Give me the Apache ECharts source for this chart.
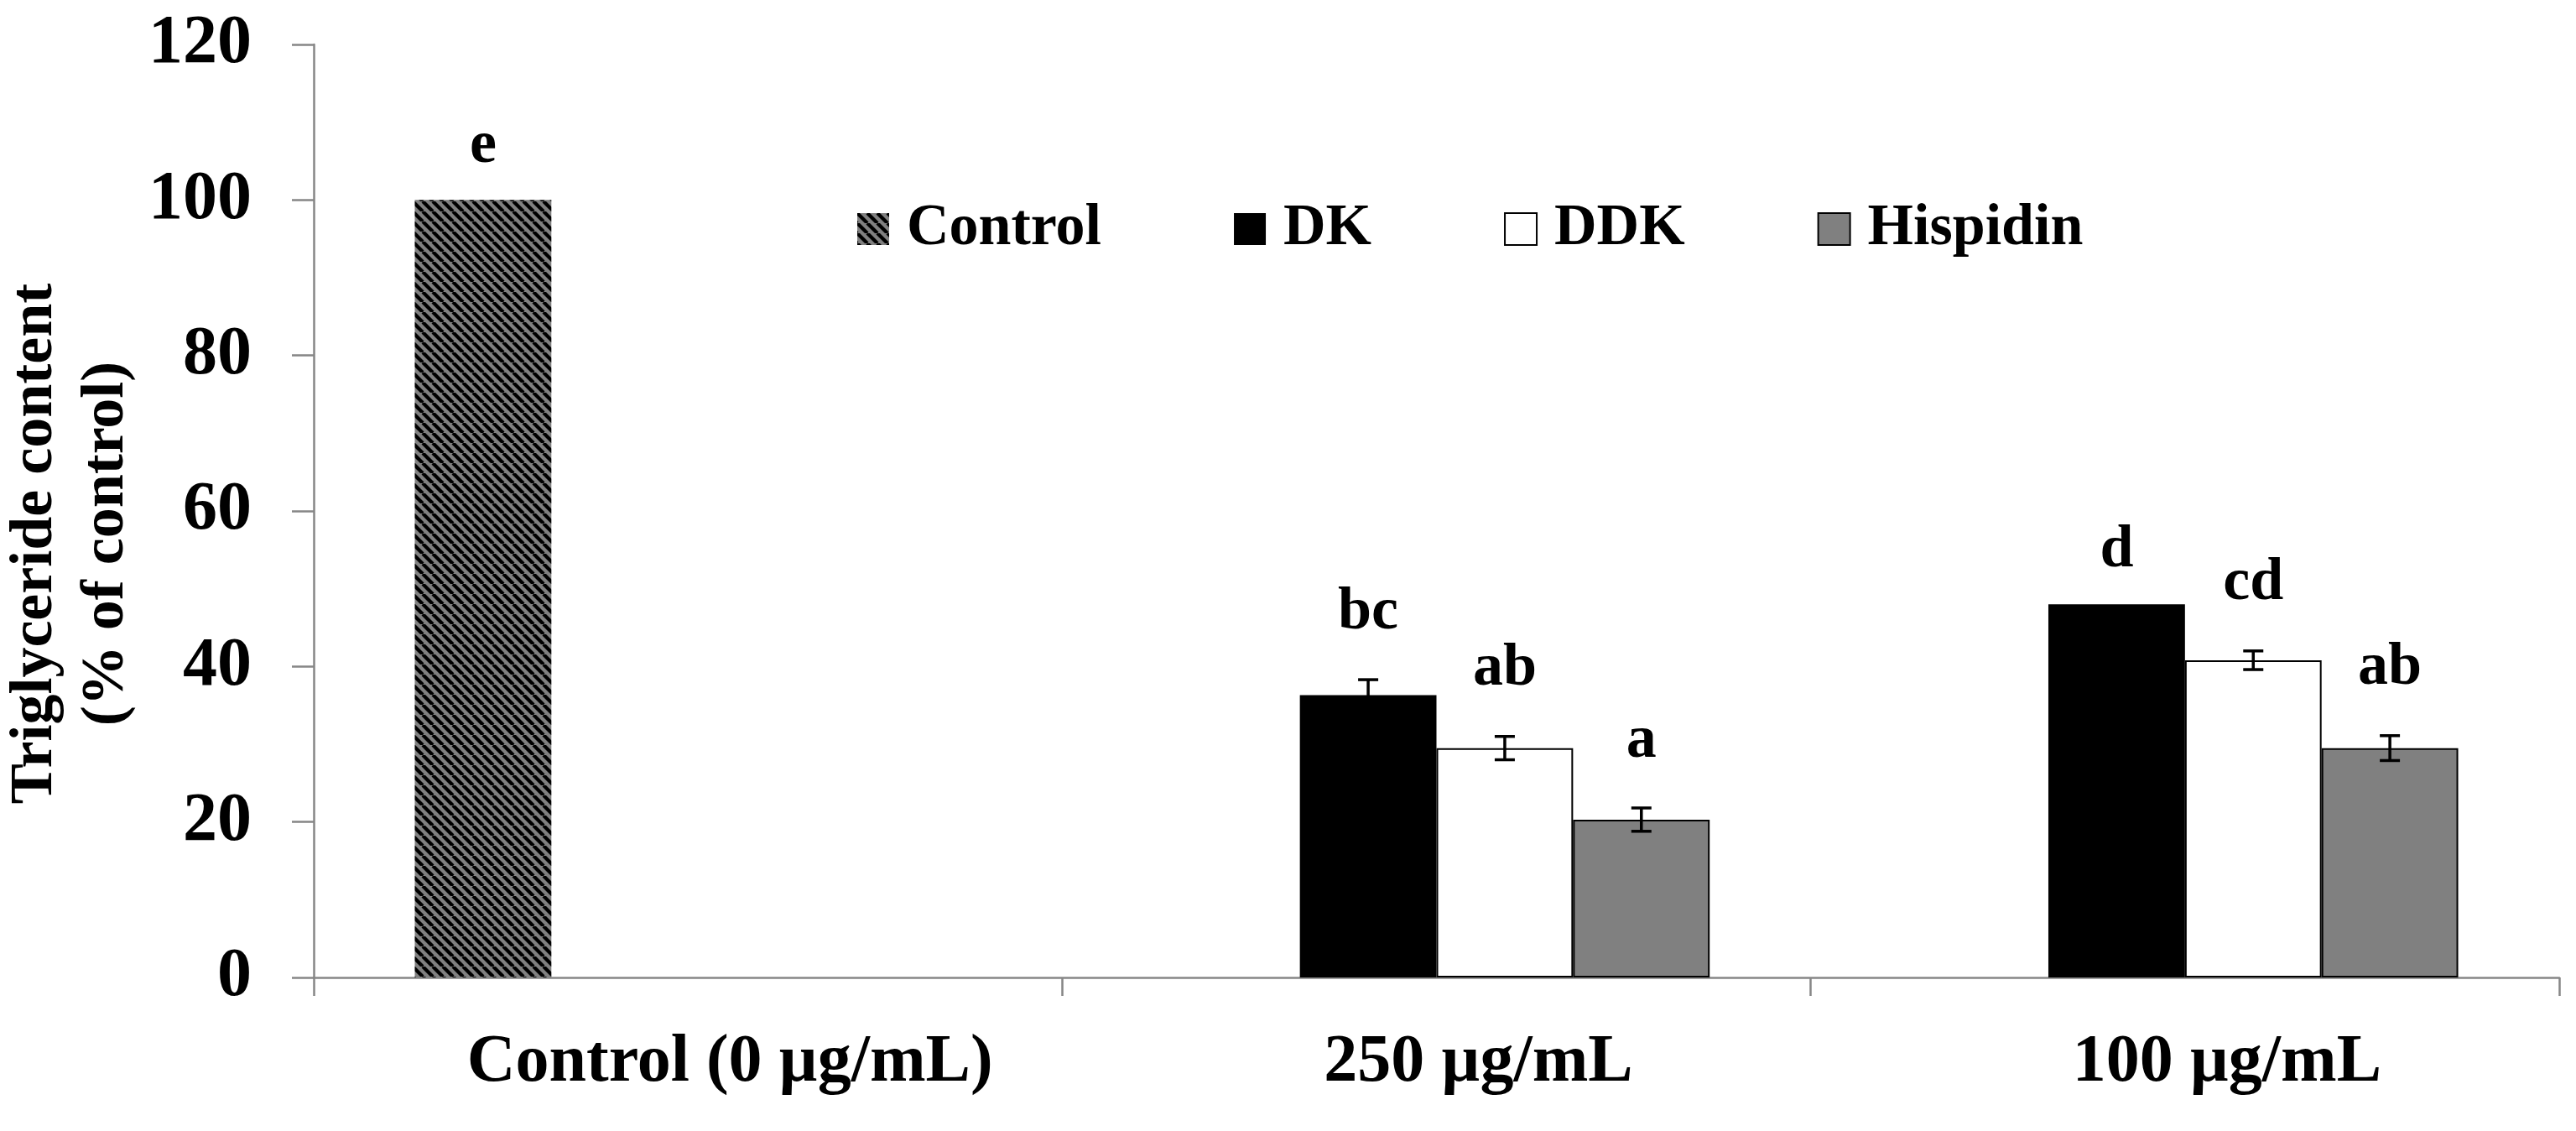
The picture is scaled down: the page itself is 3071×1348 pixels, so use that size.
<!DOCTYPE html>
<html>
<head>
<meta charset="utf-8">
<script src="https://cdn.jsdelivr.net/npm/echarts@6/dist/echarts.min.js"></script>
<style>
  html, body { margin: 0; padding: 0; background: #fff; }
  #chart { width: 3071px; height: 1348px; }
</style>
</head>
<body>
<div id="chart"></div>
<script>
// data
var categories = ['Control (0 µg/mL)', '250 µg/mL', '100 µg/mL'];
var seriesNames = ['Control', 'DK', 'DDK', 'Hispidin'];

var controlVals = [100, null, null];
var dkVals = [null, 36.3, 48.0];
var ddkVals = [null, 29.5, 40.8];
var hispVals = [null, 20.3, 29.5];

var controlErr = [0, null, null];
var dkErr = [null, 2.0, 0];
var ddkErr = [null, 1.5, 1.2];
var hispErr = [null, 1.5, 1.6];

var controlLetters = ['e', '', ''];
var dkLetters = ['', 'bc', 'd'];
var ddkLetters = ['', 'ab', 'cd'];
var hispLetters = ['', 'a', 'ab'];

var yTicks = [0, 20, 40, 60, 80, 100, 120];

var CAT_GAP = 0.27;
var FONT = '"Liberation Serif", "Times New Roman", serif';

// hatch pattern for the control bar
function hatch() {
  var s = 12;
  var c = document.createElement('canvas');
  c.width = s; c.height = s;
  var ctx = c.getContext('2d');
  ctx.fillStyle = '#808080';
  ctx.fillRect(0, 0, s, s);
  ctx.strokeStyle = '#000';
  ctx.lineWidth = 4.2;
  [-s, 0, s].forEach(function (k) {
    ctx.beginPath();
    ctx.moveTo(k, 0);
    ctx.lineTo(k + s, s);
    ctx.stroke();
  });
  return { image: c, repeat: 'repeat' };
}

function errSeries(idx, vals, errs, letters) {
  var data = [];
  vals.forEach(function (v, i) {
    if (v != null) data.push([i, v, errs[i] || 0]);
  });
  return {
    type: 'custom',
    name: seriesNames[idx] + '_err',
    z: 5,
    silent: true,
    renderItem: function (params, api) {
      var c = api.value(0);
      var v = api.value(1);
      var e = api.value(2);
      var base = api.coord([c, 0]);
      var band = api.size([1, 0])[0];
      var barW = band * (1 - CAT_GAP) / 4;
      var x = base[0] - band * (1 - CAT_GAP) / 2 + barW * (idx + 0.5);
      var topY = api.coord([c, v + e])[1];
      var lowY = api.coord([c, v - e])[1];
      var children = [];
      if (e > 0) {
        var st = { stroke: '#000', lineWidth: 3.5 };
        children.push({ type: 'line', shape: { x1: x, y1: topY, x2: x, y2: lowY }, style: st });
        children.push({ type: 'line', shape: { x1: x - 12, y1: topY, x2: x + 12, y2: topY }, style: st });
        children.push({ type: 'line', shape: { x1: x - 12, y1: lowY, x2: x + 12, y2: lowY }, style: st });
      }
      children.push({
        type: 'text',
        style: {
          text: letters[c],
          x: x,
          y: topY - (e > 0 ? 44 : 28),
          align: 'center',
          verticalAlign: 'bottom',
          font: 'bold 72px ' + FONT,
          fill: '#000'
        }
      });
      return { type: 'group', children: children };
    },
    data: data
  };
}

var chart = echarts.init(document.getElementById('chart'));

var option = {
  backgroundColor: '#fff',
  animation: false,
  grid: { left: 374, right: 20, top: 53, bottom: 183 },
  legend: {
    data: seriesNames,
    left: 1017,
    top: 233,
    icon: 'rect',
    itemWidth: 38,
    itemHeight: 38,
    itemGap: 158,
    textStyle: {
      fontFamily: FONT,
      fontWeight: 'bold',
      fontSize: 70,
      color: '#000',
      padding: [0, 0, 0, 16]
    }
  },
  graphic: [{
    type: 'text',
    x: 85,
    y: 648,
    rotation: Math.PI / 2,
    style: {
      text: 'Triglyceride content\n(% of control)',
      font: 'bold 72px ' + FONT,
      lineHeight: 85,
      align: 'center',
      verticalAlign: 'middle',
      textAlign: 'center',
      textVerticalAlign: 'middle',
      fill: '#000'
    }
  }],
  xAxis: {
    type: 'category',
    data: categories,
    axisLine: { lineStyle: { color: '#868686', width: 2.5 } },
    axisTick: { show: true, length: 22, lineStyle: { color: '#868686', width: 2.5 } },
    axisLabel: {
      interval: 0,
      margin: 62,
      fontFamily: FONT,
      fontWeight: 'bold',
      fontSize: 80,
      color: '#000',
      padding: [0, 0, 0, 100]
    }
  },
  yAxis: {
    type: 'value',
    min: yTicks[0],
    max: yTicks[yTicks.length - 1],
    interval: 20,
    splitLine: { show: false },
    axisLine: { show: true, lineStyle: { color: '#868686', width: 2.5 } },
    axisTick: { show: true, length: 26, lineStyle: { color: '#868686', width: 2.5 } },
    axisLabel: {
      margin: 74,
      fontFamily: FONT,
      fontWeight: 'bold',
      fontSize: 82,
      color: '#000'
    }
  },
  series: [
    {
      name: 'Control', type: 'bar', data: controlVals,
      barGap: '0%', barCategoryGap: (CAT_GAP * 100) + '%',
      itemStyle: { color: hatch() }
    },
    {
      name: 'DK', type: 'bar', data: dkVals,
      barGap: '0%', barCategoryGap: (CAT_GAP * 100) + '%',
      itemStyle: { color: '#000' }
    },
    {
      name: 'DDK', type: 'bar', data: ddkVals,
      barGap: '0%', barCategoryGap: (CAT_GAP * 100) + '%',
      itemStyle: { color: '#fff', borderColor: '#000', borderWidth: 2 }
    },
    {
      name: 'Hispidin', type: 'bar', data: hispVals,
      barGap: '0%', barCategoryGap: (CAT_GAP * 100) + '%',
      itemStyle: { color: '#808080', borderColor: '#000', borderWidth: 2 }
    },
    errSeries(0, controlVals, controlErr, controlLetters),
    errSeries(1, dkVals, dkErr, dkLetters),
    errSeries(2, ddkVals, ddkErr, ddkLetters),
    errSeries(3, hispVals, hispErr, hispLetters)
  ]
};

chart.setOption(option);
</script>
</body>
</html>
